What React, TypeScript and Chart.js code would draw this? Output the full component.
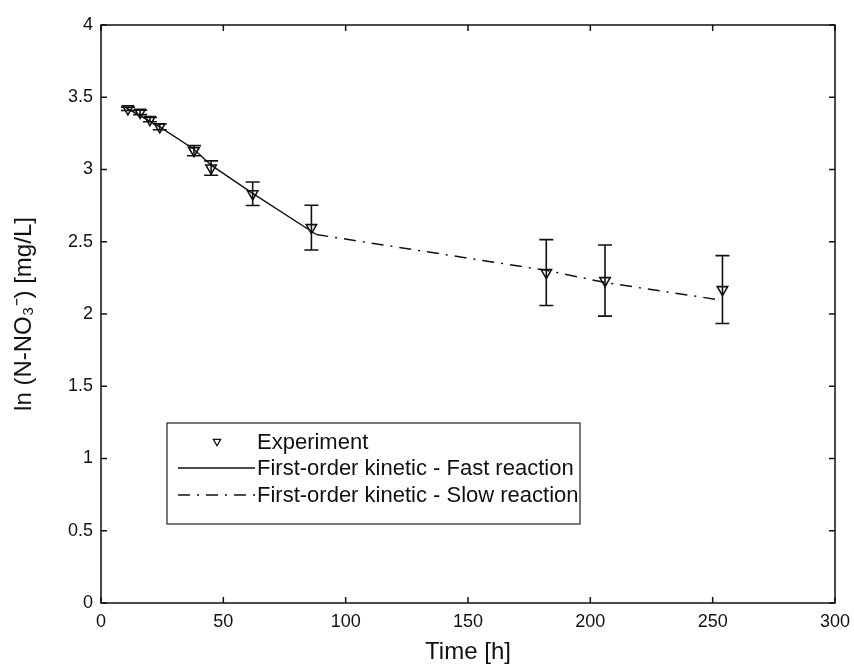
import React, { useEffect, useRef } from "react";
import { Chart, registerables } from "chart.js";

Chart.register(...registerables);

// Experimental data
const timeH = [11, 16, 20, 24, 38, 45, 62, 86, 182, 206, 254];
const lnNitrate = [3.42, 3.395, 3.345, 3.295, 3.13, 3.01, 2.832, 2.598, 2.287, 2.231, 2.169];
const errNitrate = [0.012, 0.015, 0.015, 0.02, 0.035, 0.05, 0.081, 0.155, 0.228, 0.246, 0.235];

// Model lines
const fastTimes = [10, 24, 38, 45, 62, 88];
const fastValues = [3.43, 3.295, 3.14, 3.03, 2.835, 2.55];
const slowTimes = [88, 182, 206, 252];
const slowValues = [2.55, 2.302, 2.218, 2.1];

// Axes
const xTickValues = [0, 50, 100, 150, 200, 250, 300];
const yTickValues = [0, 0.5, 1, 1.5, 2, 2.5, 3, 3.5, 4];
const seriesLabels = [
  "Experiment",
  "First-order kinetic - Fast reaction",
  "First-order kinetic - Slow reaction",
];
const xTitle = "Time [h]";
const yTitle = "ln (N-NO\u2083\u207B) [mg/L]";

const FONT = "'Liberation Sans', Arial, Helvetica, sans-serif";
const INK = "#111111";

function drawDownTriangle(ctx: CanvasRenderingContext2D, x: number, y: number, r: number) {
  ctx.beginPath();
  for (let k = 0; k < 3; k++) {
    const a = Math.PI + (k * 2 * Math.PI) / 3;
    const px = x + Math.sin(a) * r;
    const py = y - Math.cos(a) * r;
    if (k === 0) ctx.moveTo(px, py);
    else ctx.lineTo(px, py);
  }
  ctx.closePath();
  ctx.stroke();
}

const decorPlugin = {
  id: "matlabDecor",
  afterDatasetsDraw(chart: any) {
    const { ctx, scales } = chart;
    const x = scales.x;
    const y = scales.y;
    ctx.save();
    ctx.strokeStyle = INK;
    ctx.lineWidth = 1.6;
    timeH.forEach((t, i) => {
      const px = x.getPixelForValue(t);
      const top = y.getPixelForValue(lnNitrate[i] + errNitrate[i]);
      const bot = y.getPixelForValue(lnNitrate[i] - errNitrate[i]);
      ctx.beginPath();
      ctx.moveTo(px, top);
      ctx.lineTo(px, bot);
      ctx.moveTo(px - 7, top);
      ctx.lineTo(px + 7, top);
      ctx.moveTo(px - 7, bot);
      ctx.lineTo(px + 7, bot);
      ctx.stroke();
    });
    ctx.restore();
  },
  afterDraw(chart: any) {
    const { ctx, chartArea, scales } = chart;
    const { left, right, top, bottom } = chartArea;
    const x = scales.x;
    const y = scales.y;
    ctx.save();
    ctx.strokeStyle = INK;
    ctx.lineWidth = 1.5;
    ctx.strokeRect(left, top, right - left, bottom - top);
    const tl = 6;
    ctx.beginPath();
    xTickValues.forEach((v) => {
      const px = x.getPixelForValue(v);
      ctx.moveTo(px, bottom);
      ctx.lineTo(px, bottom - tl);
      ctx.moveTo(px, top);
      ctx.lineTo(px, top + tl);
    });
    yTickValues.forEach((v) => {
      const py = y.getPixelForValue(v);
      ctx.moveTo(left, py);
      ctx.lineTo(left + tl, py);
      ctx.moveTo(right, py);
      ctx.lineTo(right - tl, py);
    });
    ctx.stroke();

    // Legend box
    const bx = 167, by = 423, bw = 413, bh = 101;
    ctx.fillStyle = "#ffffff";
    ctx.fillRect(bx, by, bw, bh);
    ctx.lineWidth = 1.2;
    ctx.strokeStyle = "#222";
    ctx.strokeRect(bx, by, bw, bh);
    const rows = [441.5, 468, 495];
    ctx.font = `22px ${FONT}`;
    ctx.textBaseline = "middle";
    ctx.textAlign = "left";
    ctx.fillStyle = INK;
    const ds = chart.data.datasets;
    rows.forEach((ry, i) => {
      const d = ds[i];
      ctx.strokeStyle = INK;
      if (i === 0) {
        ctx.lineWidth = 1.3;
        drawDownTriangle(ctx, 217, ry, 4.2);
      } else {
        ctx.lineWidth = 1.3;
        ctx.setLineDash(d.borderDash || []);
        ctx.beginPath();
        ctx.moveTo(178, ry);
        ctx.lineTo(255, ry);
        ctx.stroke();
        ctx.setLineDash([]);
      }
      ctx.fillText(d.label, 257, ry + 1);
    });
    ctx.restore();
  },
};

export default function App() {
  const canvasRef = useRef<HTMLCanvasElement | null>(null);

  useEffect(() => {
    if (!canvasRef.current) return;
    const chart = new Chart(canvasRef.current, {
      type: "scatter",
      data: {
        datasets: [
          {
            label: seriesLabels[0],
            data: timeH.map((t, i) => ({ x: t, y: lnNitrate[i] })),
            showLine: false,
            pointStyle: "triangle",
            rotation: 180,
            pointRadius: 6,
            pointBorderWidth: 1.6,
            borderColor: INK,
            backgroundColor: "rgba(0,0,0,0)",
            order: 0,
          },
          {
            label: seriesLabels[1],
            data: fastTimes.map((t, i) => ({ x: t, y: fastValues[i] })),
            showLine: true,
            pointRadius: 0,
            borderColor: INK,
            borderWidth: 1.4,
            order: 1,
          },
          {
            label: seriesLabels[2],
            data: slowTimes.map((t, i) => ({ x: t, y: slowValues[i] })),
            showLine: true,
            pointRadius: 0,
            borderColor: INK,
            borderWidth: 1.5,
            borderDash: [12, 7, 2, 7],
            order: 2,
          },
        ],
      },
      options: {
        animation: false,
        responsive: false,
        devicePixelRatio: 1,
        layout: { padding: { left: 0, top: 25, right: 19, bottom: 0 } },
        plugins: {
          legend: { display: false },
          tooltip: { enabled: false },
        },
        scales: {
          x: {
            type: "linear",
            min: 0,
            max: 300,
            afterBuildTicks: (s: any) => {
              s.ticks = xTickValues.map((v) => ({ value: v }));
            },
            afterFit: (s: any) => {
              s.height = 62;
              s.paddingLeft = 0;
              s.paddingRight = 0;
            },
            ticks: {
              padding: 8,
              maxRotation: 0,
              autoSkip: false,
              color: INK,
              font: { size: 18, family: FONT },
              callback: (v: any) => String(v),
            },
            grid: { display: false, drawTicks: false },
            border: { display: false },
            title: {
              display: true,
              text: xTitle,
              color: INK,
              font: { size: 24, family: FONT, lineHeight: 1 },
              padding: { top: 0, bottom: 1 },
            },
          },
          y: {
            type: "linear",
            min: 0,
            max: 4,
            afterBuildTicks: (s: any) => {
              s.ticks = yTickValues.map((v) => ({ value: v }));
            },
            afterFit: (s: any) => {
              s.width = 101;
              s.paddingTop = 0;
              s.paddingBottom = 0;
            },
            ticks: {
              padding: 8,
              autoSkip: false,
              color: INK,
              font: { size: 18, family: FONT },
              callback: (v: any) => String(v),
            },
            grid: { display: false, drawTicks: false },
            border: { display: false },
            title: {
              display: true,
              text: yTitle,
              color: INK,
              font: { size: 24, family: FONT, lineHeight: 1 },
              padding: { top: 12, bottom: 0 },
            },
          },
        },
      },
      plugins: [decorPlugin],
    });
    return () => chart.destroy();
  }, []);

  return (
    <div style={{ position: "absolute", left: 0, top: 0, width: 854, height: 665, background: "#fff" }}>
      <canvas ref={canvasRef} width={854} height={665} style={{ display: "block" }} />
    </div>
  );
}
